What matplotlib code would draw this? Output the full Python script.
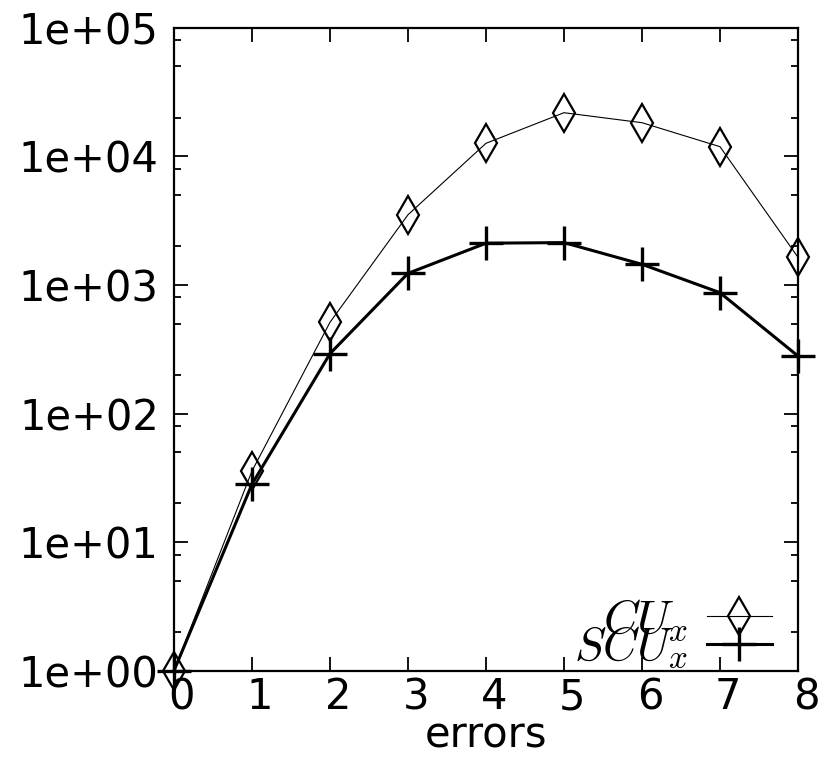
import matplotlib
matplotlib.use("Agg")
import matplotlib.pyplot as plt
import matplotlib.transforms as mtransforms
from matplotlib.ticker import FixedLocator, LogLocator, FuncFormatter, NullFormatter

# data (log scale)
errors = [0, 1, 2, 3, 4, 5, 6, 7, 8]
cu_x = [1, 35.7, 512, 3510, 12620, 21830, 18250, 11880, 1640]
scu_x = [1, 28.2, 292, 1230, 2110, 2133, 1446, 870, 280]

xticks = [0, 1, 2, 3, 4, 5, 6, 7, 8]
yticks = [1e0, 1e1, 1e2, 1e3, 1e4, 1e5]

plt.rcParams["font.family"] = "DejaVu Sans"
plt.rcParams["mathtext.fontset"] = "cm"

fig = plt.figure(figsize=(8.23, 7.57), dpi=100)
ax = fig.add_axes([0.2114, 0.114, 0.7582, 0.8494])

ax.plot(errors, cu_x, color="black", lw=0.8, marker="d", ms=19,
        mfc="none", mec="black", mew=1.6, clip_on=False, label=r"$CU_x$")
ax.plot(errors, scu_x, color="black", lw=2.2, marker="+", ms=25,
        mew=2.4, clip_on=False, label=r"$SCU_x$")

ax.set_yscale("log")
ax.set_xlim(0, 8)
ax.set_ylim(1, 1e5)

ax.xaxis.set_major_locator(FixedLocator(xticks))
ax.yaxis.set_major_locator(FixedLocator(yticks))
ax.yaxis.set_minor_locator(LogLocator(base=10, subs=(2, 5, 8)))
ax.yaxis.set_major_formatter(FuncFormatter(lambda v, p: "%.0e" % v))
ax.yaxis.set_minor_formatter(NullFormatter())

ax.tick_params(which="both", direction="in", top=True, right=True,
               labelsize=30, width=1.3)
ax.tick_params(axis="y", which="major", length=10, pad=11)
ax.tick_params(axis="x", which="major", length=10, pad=4)
ax.tick_params(which="minor", length=5)
for s in ax.spines.values():
    s.set_linewidth(1.6)

# gnuplot puts the x labels a little right of the ticks
shift = mtransforms.ScaledTranslation(0.08, 0, fig.dpi_scale_trans)
for lab in ax.get_xticklabels():
    lab.set_transform(lab.get_transform() + shift)

ax.set_xlabel("errors", fontsize=30, labelpad=-3)

leg = ax.legend(loc="lower right", bbox_to_anchor=(1.0, -0.04),
                frameon=False, markerfirst=False,
                fontsize=34, labelspacing=-0.375, handlelength=1.38,
                handletextpad=0.4, borderpad=0.4, borderaxespad=0.15)

fig.savefig("out.png", dpi=100)
